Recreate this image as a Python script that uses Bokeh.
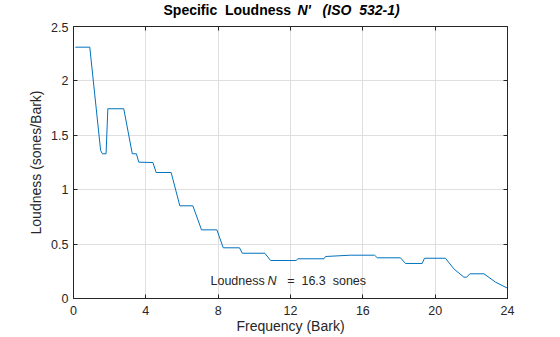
from bokeh.plotting import figure
from bokeh.layouts import column
from bokeh.models import Range1d, LinearAxis, FixedTicker, Label
from bokeh.embed import file_html
from bokeh.resources import INLINE

# Specific loudness N' (sones/Bark) vs critical-band rate (Bark)
bark = [0.1, 0.9, 1.5, 1.6, 1.8, 1.9, 2.78, 3.25, 3.48, 3.61, 4.39, 4.57, 5.4, 5.88, 6.6,
        7.08, 7.93, 8.28, 9.18, 9.33, 10.58, 10.9, 12.32, 12.4, 13.85, 13.94, 15.3, 16.65,
        16.8, 18.08, 18.36, 19.28, 19.41, 20.57, 21.03, 21.59, 21.74, 21.92, 22.7, 23.34, 24.0]
loudness = [2.31, 2.31, 1.36, 1.33, 1.33, 1.744, 1.744, 1.33, 1.33, 1.253, 1.25, 1.158, 1.158,
            0.852, 0.852, 0.631, 0.631, 0.466, 0.466, 0.416, 0.416, 0.349, 0.349, 0.365, 0.365,
            0.386, 0.398, 0.398, 0.374, 0.374, 0.322, 0.322, 0.37, 0.37, 0.273, 0.196, 0.196,
            0.227, 0.227, 0.15, 0.095]

x_ticks = [0, 4, 8, 12, 16, 20, 24]
x_tick_labels = ["0", "4", "8", "12", "16", "20", "24"]
y_ticks = [0, 0.5, 1, 1.5, 2, 2.5]
y_tick_labels = ["0", "0.5", "1", "1.5", "2", "2.5"]
total_loudness = "16.3"

FONT = "Liberation Sans"
TXT = "#262626"
NB = "\u00a0"

# ---- title strip (its own small svg figure so mixed bold / bold-italic text is possible)
TITLE_H = 22
t = figure(width=560, height=TITLE_H, output_backend="svg", toolbar_location=None,
           title=None, x_axis_type=None, y_axis_type=None,
           x_range=Range1d(0, 1), y_range=Range1d(0, 1), min_border=0)
t.outline_line_color = None
t.background_fill_color = "white"
t.border_fill_color = "white"
t.xgrid.visible = False
t.ygrid.visible = False
t.add_layout(Label(x=90, y=TITLE_H - 9, x_units="screen", y_units="screen",
                   text="Specific" + NB + NB + "Loudness",
                   text_font=FONT, text_font_size="14px", text_font_style="bold",
                   text_color="black", text_baseline="middle", text_align="left"))
t.add_layout(Label(x=224, y=TITLE_H - 9, x_units="screen", y_units="screen",
                   text="N'" + NB * 3 + "(ISO" + NB + NB + "532-1)",
                   text_font=FONT, text_font_size="14px", text_font_style="bold italic",
                   text_color="black", text_baseline="middle", text_align="left"))

# ---- main plot
p = figure(width=560, height=337 - TITLE_H, output_backend="svg", toolbar_location=None,
           title=None, x_range=Range1d(0, 24), y_range=Range1d(0, 2.5),
           min_border_left=73, min_border_right=53, min_border_top=26 - TITLE_H,
           min_border_bottom=39)
p.outline_line_color = None
p.background_fill_color = "white"
p.border_fill_color = "white"

p.line(bark, loudness, line_color="#0072BD", line_width=1)

def style_axis(ax, ticks, labels, show_labels=True):
    ax.ticker = FixedTicker(ticks=ticks)
    ax.major_label_overrides = {tk: lb for tk, lb in zip(ticks, labels)}
    ax.major_tick_in = 4
    ax.major_tick_out = 0
    ax.minor_tick_in = 0
    ax.minor_tick_out = 0
    ax.axis_line_color = TXT
    ax.major_tick_line_color = TXT
    ax.major_label_text_font = FONT
    ax.major_label_text_font_size = "12.5px" if show_labels else "0px"
    ax.major_label_text_color = TXT if show_labels else None
    ax.axis_label_text_font = FONT
    ax.axis_label_text_font_size = "14px"
    ax.axis_label_text_font_style = "normal"
    ax.axis_label_text_color = TXT
    if not show_labels:
        ax.major_label_standoff = 0

xa = p.xaxis[0]
ya = p.yaxis[0]
style_axis(xa, x_ticks, x_tick_labels)
style_axis(ya, y_ticks, y_tick_labels)
xa.axis_label = "Frequency (Bark)"
ya.axis_label = "Loudness (sones/Bark)"
xa.major_label_standoff = 7
xa.axis_label_standoff = 0
ya.major_label_standoff = 5
ya.axis_label_standoff = 4

top = LinearAxis()
right = LinearAxis()
style_axis(top, x_ticks, x_tick_labels, show_labels=False)
style_axis(right, y_ticks, y_tick_labels, show_labels=False)
p.add_layout(top, "above")
p.add_layout(right, "right")

p.xgrid.ticker = FixedTicker(ticks=x_ticks)
p.ygrid.ticker = FixedTicker(ticks=y_ticks)
for g in (p.xgrid[0], p.ygrid[0]):
    g.grid_line_color = "#dfdfdf"
    g.grid_line_width = 1

# Annotation
p.add_layout(Label(x=137, y=18, x_units="screen", y_units="screen", text="Loudness",
                   text_font=FONT, text_font_size="12.5px", text_color=TXT,
                   text_baseline="middle", text_align="left"))
p.add_layout(Label(x=194, y=18, x_units="screen", y_units="screen", text="N",
                   text_font=FONT, text_font_size="12.5px", text_font_style="italic",
                   text_color=TXT, text_baseline="middle", text_align="left"))
p.add_layout(Label(x=213.7, y=18, x_units="screen", y_units="screen",
                   text="=" + NB + NB + total_loudness + NB + NB + "sones",
                   text_font=FONT, text_font_size="12.5px", text_color=TXT,
                   text_baseline="middle", text_align="left"))

layout = column(t, p, spacing=0)
open("out.html", "w").write(file_html(layout, INLINE))
